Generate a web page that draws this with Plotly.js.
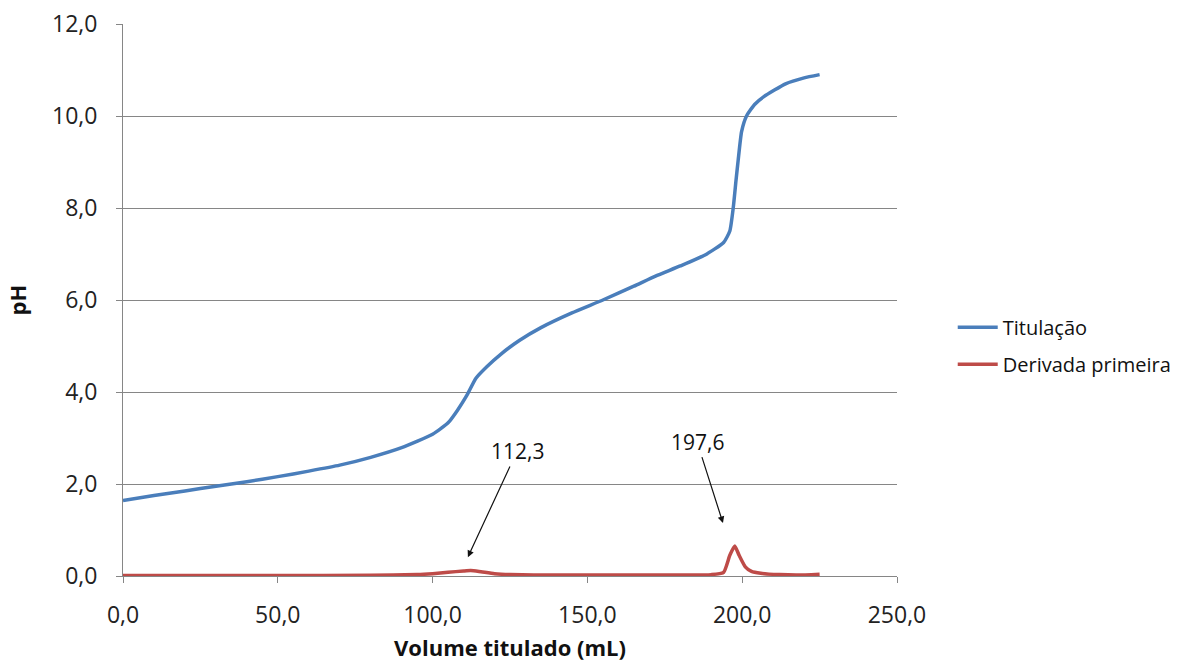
<!DOCTYPE html>
<html><head><meta charset="utf-8">
<script src="https://cdn.plot.ly/plotly-3.0.1.min.js"></script>
<style>body{margin:0;background:#fff}#c{width:1200px;height:670px}</style>
</head><body><div id="c"></div>
<script>
const volTitulacao = [0,10,20,30,40,50,60,70,80,90,100,105,108,111,114,117.5,122,128,135,145,155,165,172,180,188,194,196,197.1,198,198.7,199.8,201.4,204,207,214,220,225];
const phTitulacao  = [1.64,1.75,1.85,1.95,2.05,2.16,2.28,2.41,2.58,2.79,3.08,3.33,3.6,3.92,4.3,4.55,4.82,5.12,5.4,5.72,6.0,6.3,6.52,6.74,6.98,7.25,7.5,8.0,8.6,9.04,9.66,10.0,10.25,10.42,10.7,10.83,10.9];
const volDerivada = [0,20,50,80,95,100,105,110,112.3,115,120,125,140,160,180,190,194,196,197.6,199,201,203,206,212,218,225];
const valDerivada = [0.01,0.01,0.01,0.015,0.03,0.05,0.08,0.11,0.12,0.1,0.05,0.03,0.02,0.02,0.02,0.03,0.08,0.45,0.65,0.45,0.2,0.1,0.06,0.03,0.02,0.04];
const nomes = ["Titulação","Derivada primeira"];
const pontos = [{x:112.3,y:0.12,texto:"112,3",tx:127.3,ty:2.72,hx:111.4,hy:0.41},{x:197.6,y:0.65,texto:"197,6",tx:185.4,ty:2.92,hx:193.8,hy:1.15}];
const xTicks = [0,50,100,150,200,250];
const yTicks = [0,2,4,6,8,10,12];

const font = "'Open Sans', sans-serif";
const traces = [
 {x:volTitulacao,y:phTitulacao,name:nomes[0],legendgroup:"a",mode:"lines",line:{color:"#4A7EBB",width:3.5,shape:"spline",smoothing:0.5}},
 {x:volDerivada,y:valDerivada,name:nomes[1],legendgroup:"b",mode:"lines",line:{color:"#BE4B48",width:3.5,shape:"spline",smoothing:0.5}}
];
const annotations = pontos.map(p=>({x:p.hx,y:p.hy,xref:"x",yref:"y",ax:p.tx,ay:p.ty,axref:"x",ayref:"y",text:p.texto,showarrow:true,arrowhead:2,arrowsize:1.1,arrowwidth:1.2,arrowcolor:"#111",font:{family:font,size:21,color:"#111"}}));
const layout = {
 width:1200,height:670,margin:{l:123,r:303,t:24,b:94},
 paper_bgcolor:"#fff",plot_bgcolor:"#fff",separators:",.",
 font:{family:font,color:"#111"},
 xaxis:{range:[0,250],tickvals:xTicks,tickformat:".1f",showgrid:false,zeroline:false,showline:true,linecolor:"#868686",linewidth:1,ticks:"outside",ticklen:6,tickcolor:"#868686",ticklabelstandoff:12,tickfont:{size:23,family:font,color:"#222"},
   title:{text:"Volume titulado (mL)",font:{size:22,family:font,color:"#111",weight:"bold"},standoff:12}},
 yaxis:{range:[0,12],tickvals:yTicks,tickformat:".1f",showgrid:true,gridcolor:"#868686",gridwidth:1,zeroline:false,showline:true,linecolor:"#868686",linewidth:1,ticks:"outside",ticklen:6,tickcolor:"#868686",ticklabelstandoff:14,tickfont:{size:23,family:font,color:"#222"},
   title:{text:"pH",font:{size:22,family:font,color:"#111",weight:"bold"},standoff:19}},
 legend:{x:1.072,y:0.417,xanchor:"left",yanchor:"middle",font:{size:20,family:font,color:"#111"},tracegroupgap:8,itemwidth:40,borderwidth:0},
 annotations:annotations
};
Plotly.newPlot("c",traces,layout,{displayModeBar:false,staticPlot:true});
</script></body></html>
